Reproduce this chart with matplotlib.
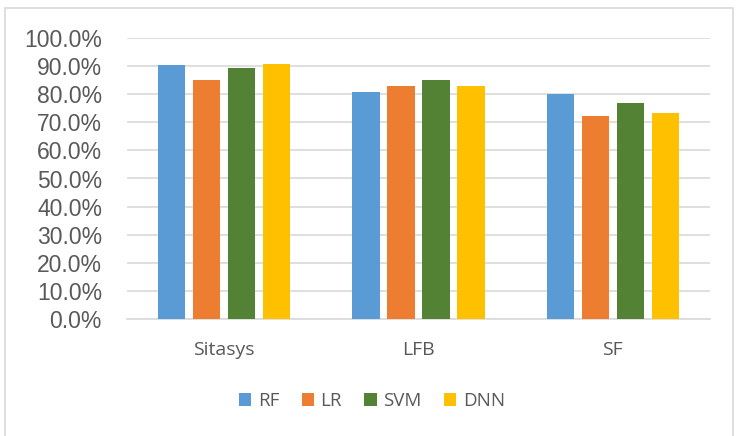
import matplotlib
matplotlib.use("Agg")
import matplotlib.pyplot as plt
import numpy as np
from matplotlib.patches import Rectangle

categories = ["Sitasys", "LFB", "SF"]
series_names = ["RF", "LR", "SVM", "DNN"]
rf = [0.905, 0.808, 0.800]
lr = [0.850, 0.830, 0.722]
svm = [0.892, 0.850, 0.768]
dnn = [0.908, 0.830, 0.732]
colors = ["#5B9BD5", "#ED7D31", "#548235", "#FFC000"]
yticks = [i / 10 for i in range(11)]

W, H = 741, 436
fig = plt.figure(figsize=(W / 100, H / 100), dpi=100)
fig.patches.append(Rectangle((5 / W, -0.01), 728 / W, 1.01 - 8 / H, transform=fig.transFigure,
                             fill=False, edgecolor="#D9D9D9", linewidth=1.2))

ax = fig.add_axes([127 / W, 1 - 319 / H, (710 - 127) / W, (319 - 38) / H])
x = np.arange(len(categories))
bw = 0.142
step = 0.18
for i, (vals, c, name) in enumerate(zip([rf, lr, svm, dnn], colors, series_names)):
    ax.bar(x + (i - 1.5) * step, vals, width=bw, color=c, label=name, zorder=3)

ax.set_xlim(-0.5, 2.5)
ax.set_ylim(0, 1.0)
ax.set_yticks(yticks)
ax.set_yticklabels([f"{v*100:.1f}%" for v in yticks], fontsize=16.5, color="#595959",
                   family="Liberation Sans")
ax.set_xticks(x)
ax.set_xticklabels(categories, fontsize=14, color="#595959", family="Open Sans")
ax.tick_params(axis="both", length=0)
ax.tick_params(axis="x", pad=16)
ax.tick_params(axis="y", pad=18)
ax.grid(axis="y", color="#D9D9D9", linewidth=1.2, zorder=0)
for s in ["top", "right", "left"]:
    ax.spines[s].set_visible(False)
ax.spines["bottom"].set_color("#D9D9D9")
ax.spines["bottom"].set_linewidth(1.2)

leg = fig.legend(loc="center", bbox_to_anchor=(372 / W, 1 - 401 / H), ncol=4, frameon=False,
                 prop={"family": "Open Sans", "size": 13.5}, handlelength=0.65, handleheight=0.65,
                 handletextpad=0.35, columnspacing=1.2)
for t in leg.get_texts():
    t.set_color("#595959")

fig.savefig("out.png", dpi=100)
